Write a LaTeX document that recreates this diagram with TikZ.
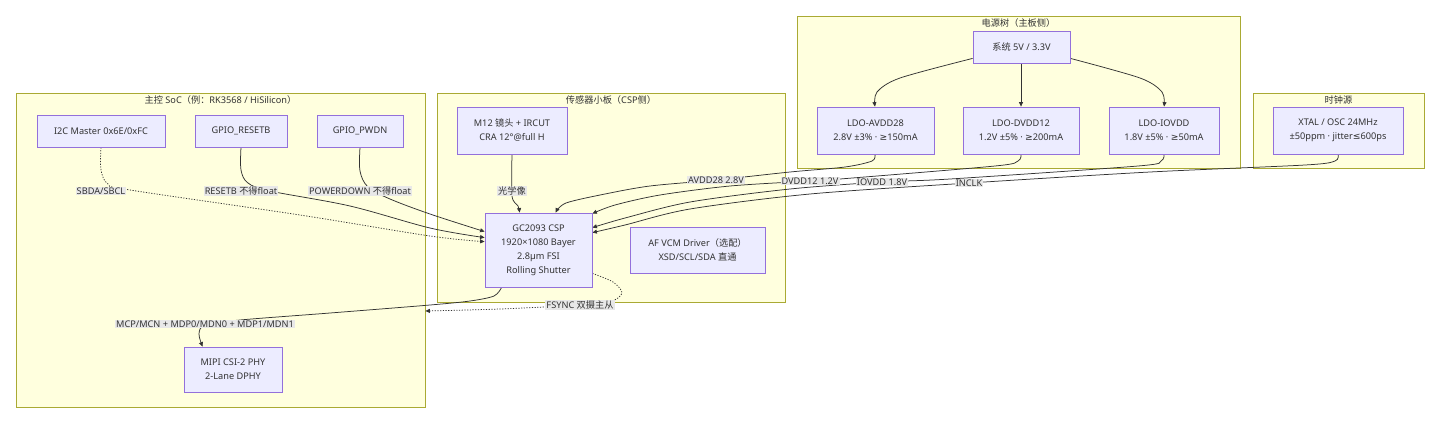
\documentclass[tikz,border=0pt]{standalone}
\usepackage{fontspec}
\setmainfont{Noto Sans}
\newfontfamily\cjk{Noto Sans CJK SC}
\newfontfamily\sym{DejaVu Sans}
\usetikzlibrary{arrows.meta,calc}
\definecolor{nodefill}{HTML}{ECECFF}
\definecolor{nodestroke}{HTML}{9370DB}
\definecolor{clfill}{HTML}{FFFFDE}
\definecolor{clstroke}{HTML}{AAAA33}
\definecolor{edgecol}{HTML}{333333}
\definecolor{txtcol}{HTML}{333333}
\definecolor{lblbg}{HTML}{E8E8E8}
\pgfdeclarelayer{bg}
\pgfdeclarelayer{edges}
\pgfsetlayers{bg,edges,main}
\tikzset{
  box/.style={draw=nodestroke, fill=nodefill, line width=0.8pt, align=center, text=txtcol,
    font=\fontsize{9.2}{14}\selectfont, inner sep=0pt},
  cluster/.style={draw=clstroke, fill=clfill, line width=0.8pt, inner sep=0pt},
  cltitle/.style={text=txtcol, font=\fontsize{9.2}{11}\selectfont, inner sep=0pt},
  elabel/.style={fill=lblbg, text=txtcol, font=\fontsize{9.2}{11}\selectfont, inner sep=1pt},
  edge/.style={draw=edgecol, line width=0.75pt, -{Triangle[length=4.5pt,width=4pt]}},
  dotedge/.style={edge, dash pattern=on 1.2pt off 1.5pt},
}
\begin{document}
\begin{tikzpicture}[x=1pt,y=-1pt]
\begin{pgfonlayer}{bg}
  \fill[white] (0,0) rectangle (1440,424);
  \node[cluster, minimum width=409pt, minimum height=314pt] (soc) at (220.5,250) {};
  \node[cluster, minimum width=348pt, minimum height=209pt] (sensor) at (611,197.5) {};
  \node[cluster, minimum width=443pt, minimum height=152pt] (power) at (1018.5,92) {};
  \node[cluster, minimum width=171pt, minimum height=75pt] (clock) at (1338.5,130.5) {};
\end{pgfonlayer}
\useasboundingbox (0,0) rectangle (1440,424);

% cluster titles
\node[cltitle] (socT) at (220.5,100) {{\cjk 主控} SoC{\cjk （例：}RK3568 / HiSilicon{\cjk ）}};
\node[cltitle] (sensorT) at (611,100) {{\cjk 传感器小板（}CSP{\cjk 侧）}};
\node[cltitle] (powerT) at (1018.5,23) {{\cjk 电源树（主板侧）}};
\node[cltitle] (clockT) at (1338.5,100) {{\cjk 时钟源}};

% nodes
\node[box, minimum width=128pt, minimum height=32pt] (i2c) at (101,131) {I2C Master 0x6E/0xFC};
\node[box, minimum width=92pt, minimum height=32pt] (rst) at (241,131) {GPIO\_RESETB};
\node[box, minimum width=86pt, minimum height=32pt] (pwdn) at (360,131) {GPIO\_PWDN};
\node[box, minimum width=98pt, minimum height=45pt] (mipi) at (233,369.5) {MIPI CSI-2 PHY\\2-Lane DPHY};
\node[box, minimum width=110pt, minimum height=47pt] (m12) at (512,130.5) {M12 {\cjk 镜头} + IRCUT\\CRA 12°@full H};
\node[box, minimum width=107pt, minimum height=74pt] (gc) at (538.5,250) {GC2093 CSP\\1920×1080 Bayer\\2.8µm FSI\\Rolling Shutter};
\node[box, minimum width=135pt, minimum height=46pt] (af) at (697.5,250) {AF VCM Driver{\cjk （选配）}\\XSD/SCL/SDA {\cjk 直通}};
\node[box, minimum width=97pt, minimum height=32pt] (sys) at (1021.5,47) {{\cjk 系统} 5V / 3.3V};
\node[box, minimum width=117pt, minimum height=47pt] (ldoa) at (875.5,130.5) {LDO-AVDD28\\2.8V ±3\% · {\sym ≥}150mA};
\node[box, minimum width=116pt, minimum height=47pt] (ldod) at (1021,130.5) {LDO-DVDD12\\1.2V ±5\% · {\sym ≥}200mA};
\node[box, minimum width=110pt, minimum height=47pt] (ldoi) at (1164,130.5) {LDO-IOVDD\\1.8V ±5\% · {\sym ≥}50mA};
\node[box, minimum width=130pt, minimum height=47pt] (xtal) at (1338,130.5) {XTAL / OSC 24MHz\\±50ppm · jitter{\sym ≤}600ps};

% edge labels
\node[elabel] (lSB) at (101,191) {SBDA/SBCL};
\node[elabel] (lRS) at (241,191) {RESETB {\cjk 不得}float};
\node[elabel] (lPD) at (360,191) {POWERDOWN {\cjk 不得}float};
\node[elabel] (lOP) at (512,191) {{\cjk 光学像}};
\node[elabel] (lAV) at (716,180) {AVDD28 2.8V};
\node[elabel] (lDV) at (810,181) {DVDD12 1.2V};
\node[elabel] (lIO) at (882,182) {IOVDD 1.8V};
\node[elabel] (lCK) at (969,183) {INCLK};
\node[elabel] (lMP) at (205,324) {MCP/MCN + MDP0/MDN0 + MDP1/MDN1};
\node[elabel] (lFS) at (580,305) {FSYNC {\cjk 双摄主从}};

\coordinate (socE) at ($(soc.east)+(0,61)$);

\begin{pgfonlayer}{edges}
  % SoC -> sensor
  \draw[dotedge] plot[smooth, tension=0.55] coordinates {(i2c.south) (101,170) (108,184) (130,190) (300,215) (430,236) ($(gc.north west)+(0,29)$)};
  \draw[edge] plot[smooth, tension=0.55] coordinates {(rst.south) (241,170) (248,183) (270,191) (350,206) (430,228) ($(gc.north west)+(0,25)$)};
  \draw[edge] plot[smooth, tension=0.55] coordinates {(pwdn.south) (360,171) (368,187) (390,199) (430,214) ($(gc.north west)+(0,19)$)};
  % optics
  \draw[edge] plot[smooth, tension=0.5] coordinates {(m12.south) (512,196) (518,206) ($(gc.north west)+(35,0)$)};
  % power tree
  \draw[edge] plot[smooth, tension=0.5] coordinates {($(sys.south west)+(0,-5)$) (900,78) (877,92) ($(ldoa.north)+(-0.5,0)$)};
  \draw[edge] (sys.south -| ldod.north) -- (ldod.north);
  \draw[edge] plot[smooth, tension=0.5] coordinates {($(sys.south east)+(0,-5)$) (1140,78) (1162,92) (ldoi.north)};
  % supplies to sensor
  \draw[edge] plot[smooth, tension=0.5] coordinates {($(ldoa.south)+(-0.5,0)$) (872,161) (845,167) (790,172) (716,180) (650,186) (605,194) (566,203) ($(gc.north west)+(71,0)$)};
  \draw[edge] plot[smooth, tension=0.5] coordinates {(ldod.south) (1018,161) (995,166) (840,179) (810,181) (730,186) (660,195) (615,205) ($(gc.north east)+(0,1)$)};
  \draw[edge] plot[smooth, tension=0.5] coordinates {(ldoi.south) (1161,161) (1138,166) (950,179) (882,182) (790,189) (690,202) (625,218) ($(gc.north east)+(0,15)$)};
  \draw[edge] plot[smooth, tension=0.5] coordinates {(xtal.south) (1335,161) (1305,165) (1150,172) (969,183) (810,194) (690,209) (625,225) ($(gc.north east)+(0,20)$)};
  % MIPI
  \draw[edge] plot[smooth, tension=0.5] coordinates {($(gc.south west)+(17,0)$) (494,296) (470,301) (430,305) (330,313) (240,320) (205,325) (199,334) ($(mipi.north west)+(19,0)$)};
  % FSYNC
  \draw[dotedge] plot[smooth, tension=0.5] coordinates {($(gc.south east)+(0,-14)$) (613,282) (622,293) (610,302) (580,305) (500,309) (socE)};
\end{pgfonlayer}
\end{tikzpicture}
\end{document}
